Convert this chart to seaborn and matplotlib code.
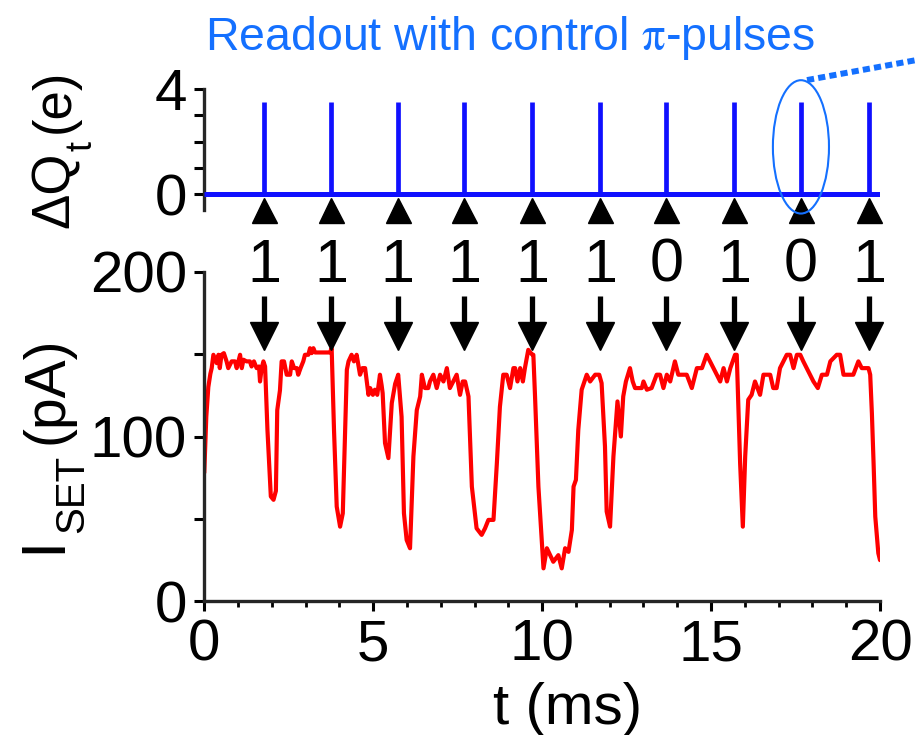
import matplotlib
matplotlib.use("Agg")
import matplotlib.pyplot as plt
from matplotlib.patches import Ellipse
from matplotlib.ticker import MultipleLocator
import seaborn as sns

# SET current trace (time in ms, current in pA)
t_ms = [0.00, 0.06, 0.12, 0.18, 0.22, 0.27, 0.37, 0.42, 0.46, 0.51, 0.58, 0.66, 0.71, 0.81, 0.91,
        0.96, 1.01, 1.06, 1.11, 1.16, 1.25, 1.35, 1.40, 1.47, 1.55, 1.62, 1.65, 1.70, 1.75, 1.80,
        1.87, 1.97, 2.05, 2.12, 2.16, 2.24, 2.29, 2.36, 2.44, 2.54, 2.59, 2.66, 2.74, 2.78, 2.85,
        2.93, 2.98, 3.08, 3.13, 3.18, 3.23, 3.28, 3.72, 3.77, 3.84, 3.92, 4.02, 4.10, 4.17, 4.22,
        4.27, 4.36, 4.43, 4.51, 4.61, 4.68, 4.76, 4.86, 4.91, 4.99, 5.05, 5.12, 5.20, 5.25, 5.28,
        5.35, 5.45, 5.55, 5.65, 5.74, 5.84, 5.91, 5.99, 6.09, 6.19, 6.29, 6.39, 6.44, 6.53, 6.63,
        6.68, 6.78, 6.88, 6.98, 7.08, 7.18, 7.27, 7.37, 7.47, 7.57, 7.65, 7.72, 7.82, 7.92, 8.06,
        8.21, 8.31, 8.41, 8.56, 8.66, 8.75, 8.85, 8.95, 9.05, 9.15, 9.20, 9.27, 9.35, 9.43, 9.49,
        9.59, 9.69, 9.74, 9.79, 9.89, 10.04, 10.14, 10.33, 10.48, 10.58, 10.68, 10.78, 10.88, 10.93,
        11.00, 11.07, 11.17, 11.32, 11.42, 11.57, 11.69, 11.76, 11.86, 11.91, 12.01, 12.11, 12.23,
        12.33, 12.40, 12.48, 12.60, 12.68, 12.75, 12.95, 13.00, 13.10, 13.24, 13.39, 13.49, 13.59,
        13.69, 13.79, 13.93, 14.03, 14.28, 14.43, 14.58, 14.73, 14.87, 14.97, 15.07, 15.17, 15.27,
        15.37, 15.47, 15.57, 15.71, 15.76, 15.86, 15.94, 16.01, 16.10, 16.20, 16.30, 16.45, 16.55,
        16.75, 16.84, 16.94, 17.04, 17.14, 17.24, 17.34, 17.44, 17.54, 17.64, 17.73, 17.83, 17.93,
        18.03, 18.16, 18.28, 18.43, 18.53, 18.72, 18.82, 18.92, 19.21, 19.36, 19.46, 19.66, 19.71,
        19.76, 19.81, 19.86, 19.95, 20.00]
i_set_pa = [78, 112, 130, 138, 141.5, 149.6, 144.5, 149.6, 141.5, 149.6, 150.6, 145.6, 141.5, 145.6, 145.6,
            141.5, 145.6, 149.6, 141.5, 146.6, 145.6, 145.6, 142.5, 145.6, 141.5, 142.5, 133.4, 141.5, 145.6, 142.5,
            104, 63.6, 61.6, 67, 116, 128, 145.6, 145.6, 137.5, 137.5, 145.6, 141.5, 141.5, 137.5, 141.5,
            145.6, 149.6, 149.6, 153.6, 150.6, 153.6, 151, 151, 153.6, 104, 57.5, 45.3, 53.4, 104, 140.5,
            145.6, 149.6, 145.6, 149.6, 137.5, 141.5, 141.5, 125.3, 129.4, 125.3, 128.4, 125.3, 137.5, 131, 126.3,
            96, 86.9, 120.3, 132, 137.5, 112, 53.4, 37.2, 32.2, 87.9, 116, 124.3, 137.5, 129.4, 129.4,
            133.4, 137.5, 129.4, 137.5, 133.4, 141.5, 129.4, 133.4, 137.5, 125.3, 133.4, 133.4, 124.3, 69.6, 44.3,
            40.3, 44.3, 49.4, 49.4, 83.8, 118, 137.5, 137.5, 129.4, 141.5, 141.5, 133.4, 141.5, 133.4, 141.5,
            152.6, 150, 149.6, 124.3, 69.6, 20, 32.2, 24, 28, 20, 32.2, 30, 43.3, 69.6,
            73.7, 104, 128.4, 137.5, 133.4, 137.5, 137.5, 132.4, 94, 54.5, 45.3, 87.9, 121.3,
            100, 124.3, 133.4, 141.5, 133.4, 129.4, 129.4, 133.4, 128.4, 129.4, 137.5, 137.5, 129.4,
            137.5, 133.4, 145.6, 137.5, 137.5, 129.4, 141.5, 141.5, 149.6, 145.6, 141.5, 137.5, 133.4,
            141.5, 133.4, 141.5, 149.6, 149.6, 83.8, 45.3, 87.9, 122.3, 125.3, 133.4, 125.3, 137.5,
            137.5, 129.4, 129.4, 141.5, 145.6, 149.6, 149.6, 141.5, 149.6, 149.6, 145.6, 141.5, 137.5,
            133.4, 129.4, 137.5, 137.5, 145.6, 149.6, 149.6, 137.5, 137.5, 145.6, 141.5, 141.5, 137.5,
            114, 83.8, 51.4, 29.2, 25]

# control pi-pulse times (ms), pulse amplitude (e) and readout results
pulse_t = [1.77, 3.75, 5.73, 7.69, 9.70, 11.71, 13.67, 15.68, 17.66, 19.68]
pulse_height = 3.5
readout_bits = ["1", "1", "1", "1", "1", "1", "0", "1", "0", "1"]

x_ticks = [0, 5, 10, 15, 20]
y_ticks = [0, 50, 100, 150, 200]
y_ticklabels = ["0", "", "100", "", "200"]
q_ticks = [0, 1, 2, 3, 4]
q_ticklabels = ["0", "", "", "", "4"]

sns.set_theme(style="ticks")
plt.rcParams["font.family"] = ["Liberation Sans", "DejaVu Sans"]

BLUE = "#1010FF"
LIGHT_BLUE = "#1470FF"
TICK_FS = 42
W, H = 916, 735

fig = plt.figure(figsize=(W / 100, H / 100), dpi=100)
ax_top = fig.add_axes([0.2230, 0.7143, 0.7377, 0.1646])
ax_bot = fig.add_axes([0.2230, 0.1819, 0.7377, 0.4484])


def vertical_text(x_px, y_px, s, size):
    """Text reading bottom-to-top, baseline at x_px, starting at y_px."""
    fig.text(x_px / W, 1 - y_px / H, s, rotation=90, rotation_mode="anchor",
             ha="left", va="baseline", fontsize=size, color="black")


# ---- upper panel: charge pulses ----
ax_top.hlines(0, 0, 20, color=BLUE, lw=3.6, zorder=3)
ax_top.vlines(pulse_t, 0, pulse_height, color=BLUE, lw=3.4, zorder=3)
ax_top.plot(pulse_t, [-0.6] * len(pulse_t), ls="none", marker="^", ms=18,
            color="black", clip_on=False, zorder=5)
ax_top.set_xlim(0, 20)
ax_top.set_ylim(-0.6, 4)
ax_top.set_xticks([])
ax_top.set_yticks(q_ticks)
ax_top.set_yticklabels(q_ticklabels)
for s in ["top", "right", "bottom"]:
    ax_top.spines[s].set_visible(False)
ax_top.spines["left"].set_linewidth(2.4)
ax_top.tick_params(axis="y", direction="out", length=7, width=2.2, pad=5,
                   labelsize=TICK_FS, colors="black")
ax_top.set_facecolor("none")

# y label: ΔQ_t(e)
vertical_text(69, 228, "ΔQ", 38)
vertical_text(92, 151, "t", 26)
vertical_text(69, 133, "(e)", 38)

# highlighted pulse and callout
ax_top.add_patch(Ellipse((pulse_t[8], 1.80), 1.66, 5.07, fill=False,
                         ec=LIGHT_BLUE, lw=1.5, clip_on=False, zorder=6))
ax_top.plot([17.84, 21.5], [4.34, 5.2], color=LIGHT_BLUE, lw=4.3,
            ls=(0, (1.2, 0.7)), dash_capstyle="butt", clip_on=False, zorder=6)

# ---- lower panel: SET current ----
sns.lineplot(x=t_ms, y=i_set_pa, ax=ax_bot, color="#FF0000", linewidth=3.0,
             estimator=None, sort=False)
ax_bot.set_xlim(0, 20)
ax_bot.set_ylim(0, 200)
ax_bot.set_xticks(x_ticks)
ax_bot.set_xticklabels([str(v) for v in x_ticks])
ax_bot.xaxis.set_minor_locator(MultipleLocator(1))
ax_bot.set_yticks(y_ticks)
ax_bot.set_yticklabels(y_ticklabels)
for s in ["top", "right"]:
    ax_bot.spines[s].set_visible(False)
for s in ["left", "bottom"]:
    ax_bot.spines[s].set_linewidth(2.4)
ax_bot.tick_params(axis="both", which="major", direction="out", length=7.5,
                   width=2.2, pad=5, labelsize=TICK_FS, colors="black")
ax_bot.tick_params(axis="x", which="minor", direction="out", length=4,
                   width=2.0, colors="black")
ax_bot.set_facecolor("none")
ax_bot.set_xlabel("t (ms)", fontsize=42, color="black")
ax_bot.xaxis.set_label_coords(0.537, -0.245)
ax_bot.set_ylabel("")

# y label: I_SET (pA)
vertical_text(60, 553, "I", 45)
vertical_text(83, 533, "SET", 29)
vertical_text(62, 444, "(pA)", 41)

# readout arrows and bits
for t, bit in zip(pulse_t, readout_bits):
    ax_bot.text(t, 194, bit, ha="center", va="baseline", fontsize=44,
                color="black", clip_on=False)
    ax_bot.plot([t, t], [185, 166], color="black", lw=3.8,
                solid_capstyle="butt", clip_on=False, zorder=5)
    ax_bot.plot([t], [161.2], ls="none", marker="v", ms=20, color="black",
                clip_on=False, zorder=5)

# title with an upright serif pi
fig.text(510 / W, 1 - 50 / H, r"Readout with control $\mathrm{\pi}$-pulses",
         ha="center", va="baseline", fontsize=33.5, color=LIGHT_BLUE,
         math_fontfamily="stix")

fig.savefig("out.png", dpi=100)
